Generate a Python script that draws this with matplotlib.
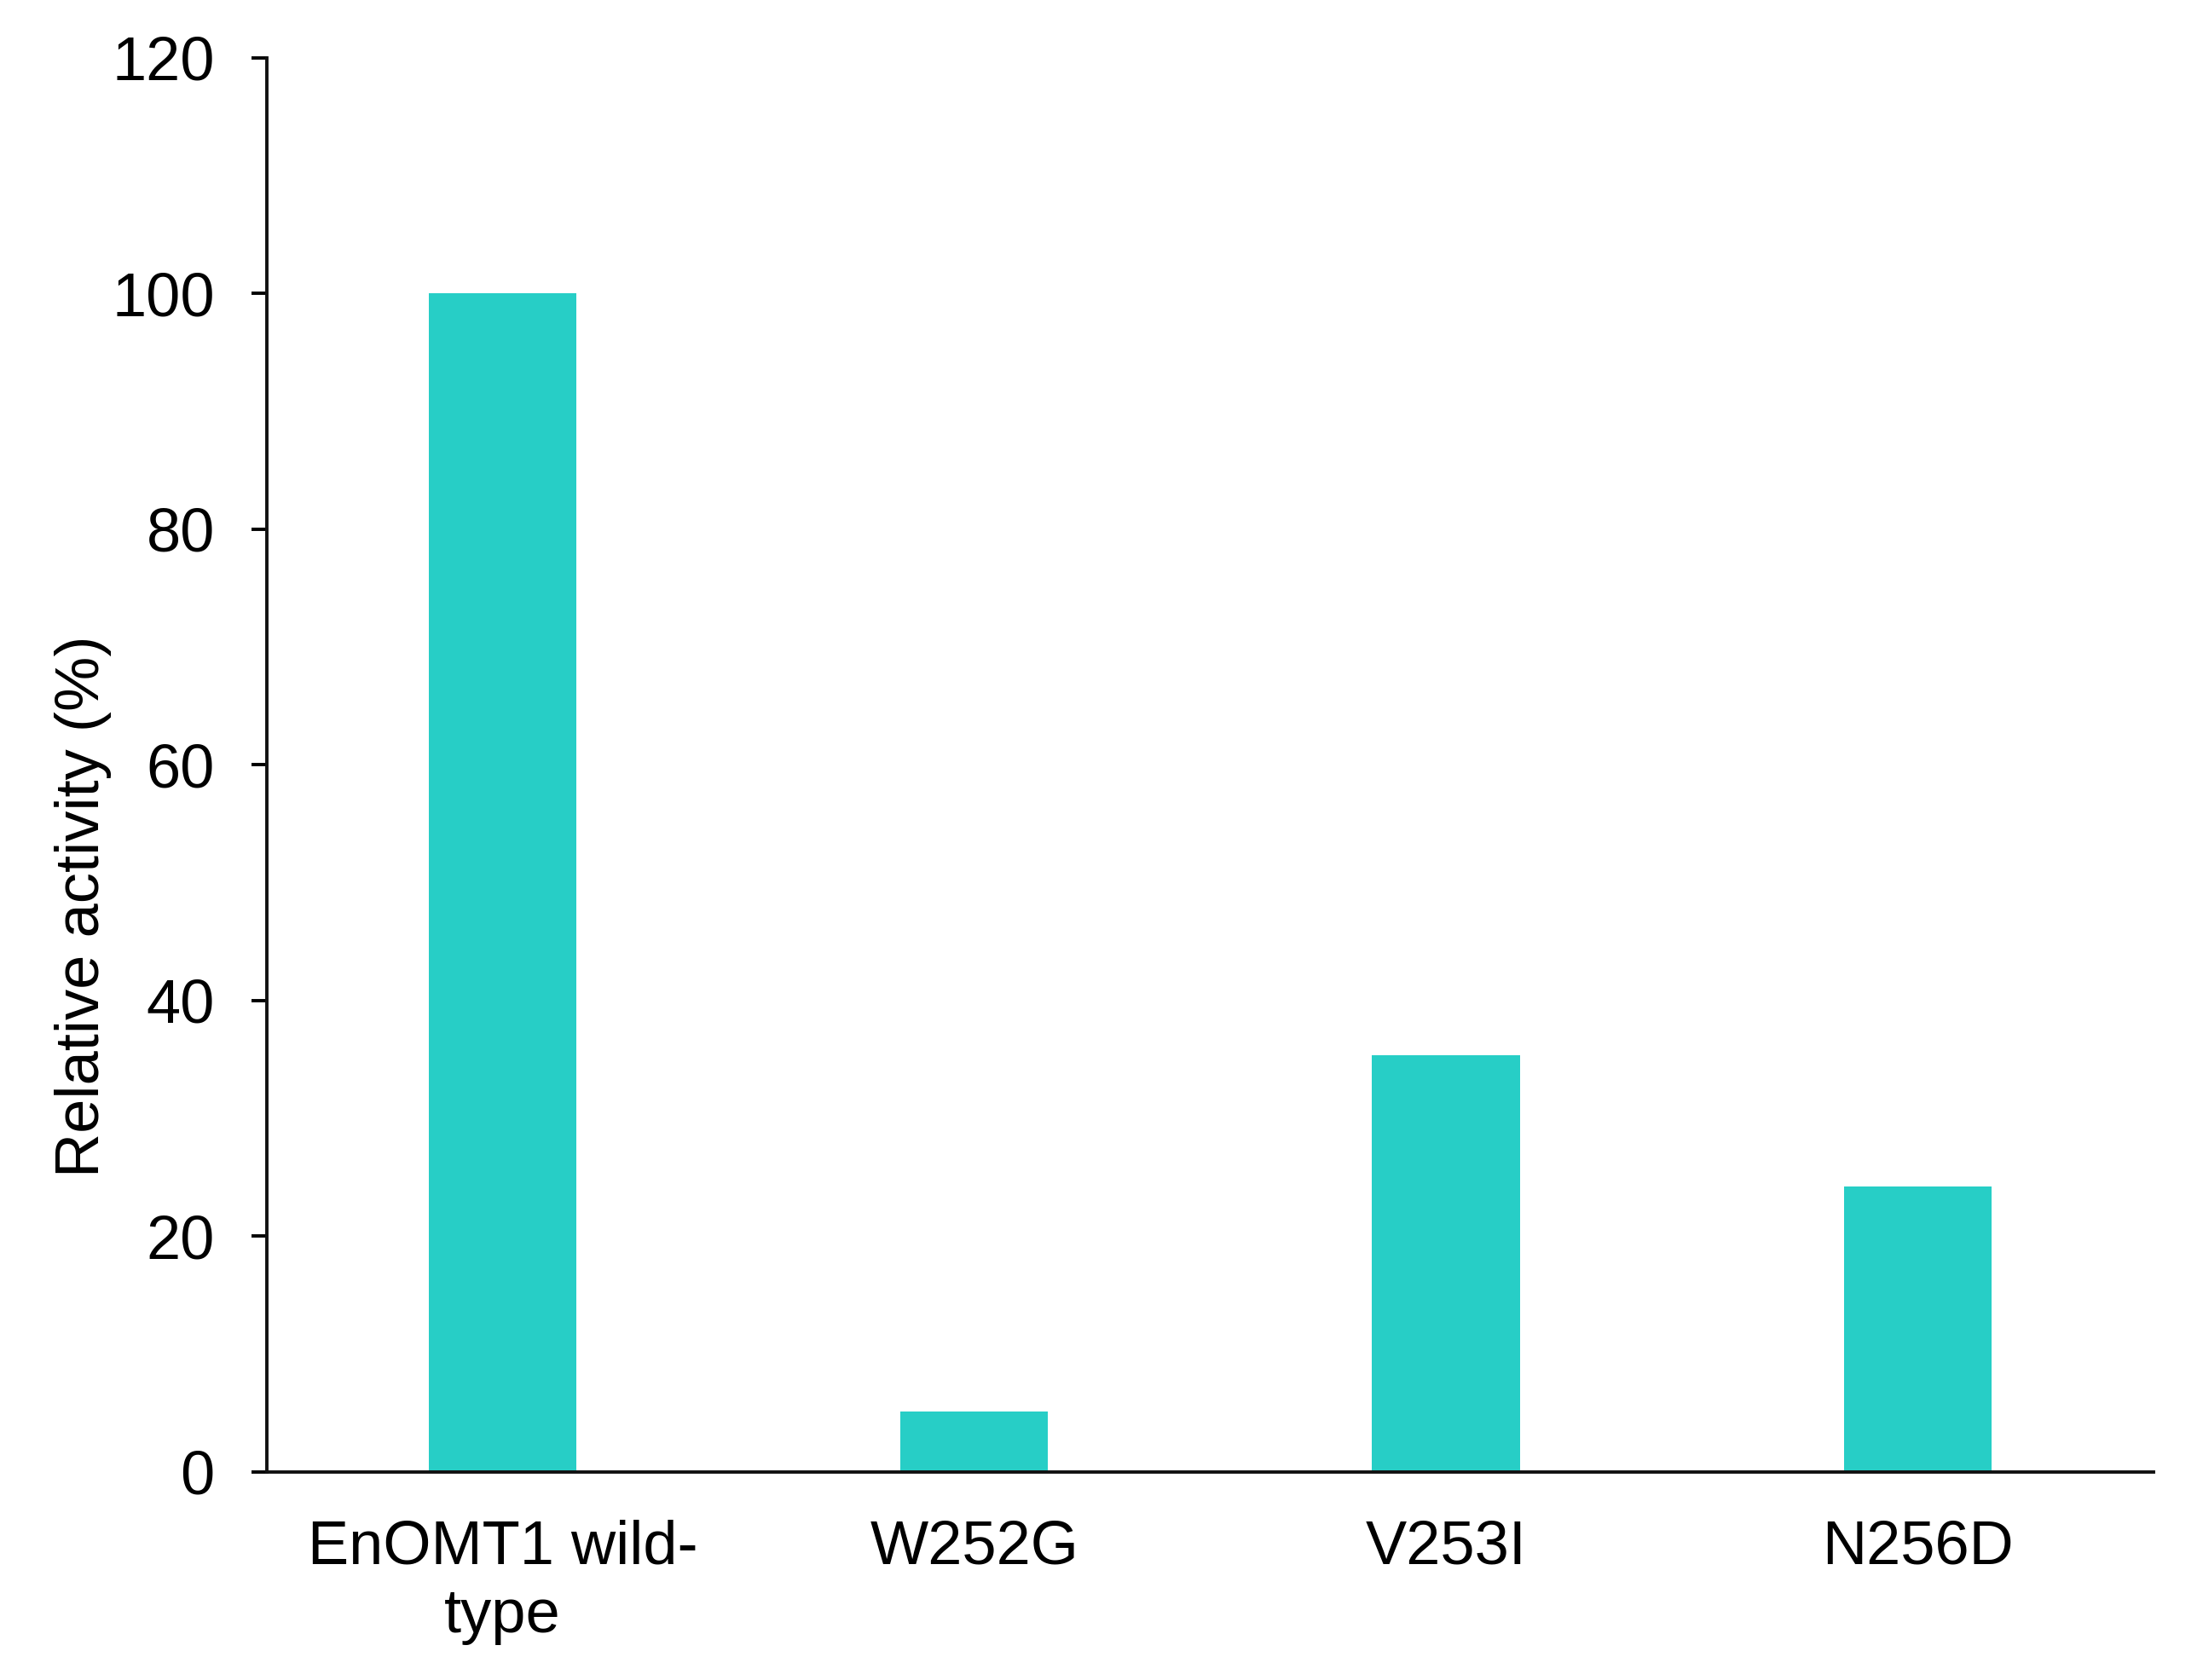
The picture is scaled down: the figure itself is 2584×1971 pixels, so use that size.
import matplotlib.pyplot as plt

categories = ["EnOMT1 wild-\ntype", "W252G", "V253I", "N256D"]
activity = [100, 5.1, 35.4, 24.2]
yticks = [0, 20, 40, 60, 80, 100, 120]

plt.rcParams['font.family'] = ['Liberation Sans', 'DejaVu Sans']

fig = plt.figure(figsize=(25.84, 19.71), dpi=100)
ax = fig.add_axes([0.1211, 0.1238, 0.8564, 0.8417])

x = range(len(categories))
ax.bar(x, activity, width=0.313, color="#27CEC6", zorder=2)

ax.set_xlim(-0.5, len(categories) - 0.5)
ax.set_ylim(0, 120)
ax.set_yticks(yticks)
ax.set_xticks(list(x))
ax.set_xticklabels(categories, fontsize=52, linespacing=1.26)
ax.tick_params(axis='y', labelsize=52, length=13, width=2.8, pad=31, direction='out')
ax.tick_params(axis='x', length=0, pad=40)
ax.set_ylabel("Relative activity (%)", fontsize=52)
ax.yaxis.set_label_coords(-0.082, 0.40)

for side in ['top', 'right']:
    ax.spines[side].set_visible(False)
for side in ['left', 'bottom']:
    ax.spines[side].set_linewidth(2.8)
    ax.spines[side].set_color('#111111')

fig.savefig("out.png", dpi=100)
